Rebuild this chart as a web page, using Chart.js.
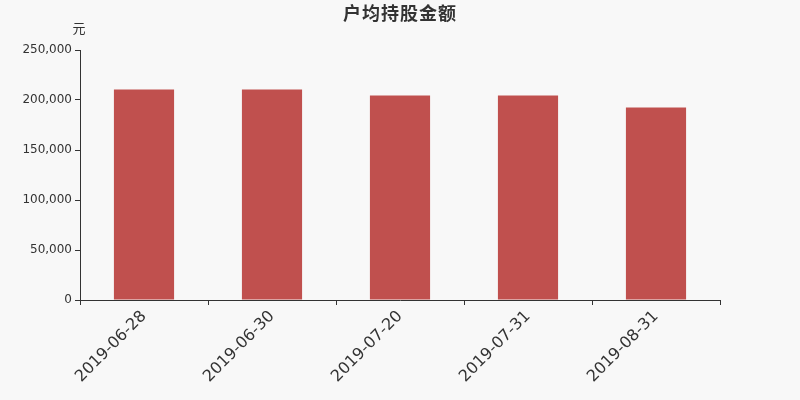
<!DOCTYPE html>
<html>
<head>
<meta charset="utf-8">
<script src="https://cdn.jsdelivr.net/npm/chart.js@4/dist/chart.umd.min.js"></script>
<style>
  html, body { margin: 0; padding: 0; background: #f8f8f8; }
  canvas { display: block; }
</style>
</head>
<body>
<canvas id="barChart" width="800" height="400"></canvas>
<script>
const categories = ['2019-06-28', '2019-06-30', '2019-07-20', '2019-07-31', '2019-08-31'];
const amounts = [210500, 210400, 204500, 204400, 192500];
const yTicks = [0, 50000, 100000, 150000, 200000, 250000];

const FONT = '"DejaVu Sans", "Noto Sans CJK SC", sans-serif';
const TEXT_COLOR = '#333';

// title and unit drawn straight onto the canvas
const headerPlugin = {
  id: 'header',
  afterDraw(chart) {
    const ctx = chart.ctx;
    ctx.save();
    ctx.fillStyle = TEXT_COLOR;
    ctx.textAlign = 'center';
    ctx.textBaseline = 'middle';
    ctx.font = 'bold 18px "Noto Sans CJK SC", sans-serif';
    if ('letterSpacing' in ctx) ctx.letterSpacing = '1px';
    ctx.fillText('户均持股金额', 400, 13);
    if ('letterSpacing' in ctx) ctx.letterSpacing = '0px';
    ctx.font = '13px "Noto Sans CJK SC", sans-serif';
    ctx.fillText('元', 79, 28);
    ctx.restore();
  }
};

document.addEventListener('DOMContentLoaded', () => {
  const ctx = document.getElementById('barChart').getContext('2d');
  new Chart(ctx, {
    type: 'bar',
    data: {
      labels: categories,
      datasets: [{
        label: '户均持股金额',
        data: amounts,
        backgroundColor: '#c0504e',
        barPercentage: 0.47,
        categoryPercentage: 1
      }]
    },
    options: {
      responsive: false,
      animation: false,
      layout: { padding: { top: 50, right: 80, left: 0, bottom: 0 } },
      plugins: {
        legend: { display: false },
        title: { display: false },
        tooltip: { enabled: false }
      },
      scales: {
        x: {
          offset: true,
          grid: {
            offset: true,
            drawOnChartArea: false,
            tickLength: 5,
            color: TEXT_COLOR
          },
          border: { color: TEXT_COLOR },
          ticks: {
            color: TEXT_COLOR,
            font: { family: FONT, size: 16 },
            minRotation: 45,
            maxRotation: 45,
            padding: 2
          },
          afterFit(scale) { scale.height = 100; }
        },
        y: {
          min: 0,
          max: 250000,
          afterBuildTicks(scale) {
            scale.ticks = yTicks.map(v => ({ value: v }));
          },
          grid: {
            drawOnChartArea: false,
            tickLength: 5,
            color: TEXT_COLOR
          },
          border: { color: TEXT_COLOR },
          ticks: {
            color: TEXT_COLOR,
            font: { family: FONT, size: 12 },
            padding: 3,
            callback: v => v.toLocaleString('en-US')
          },
          afterFit(scale) { scale.width = 80; }
        }
      }
    },
    plugins: [headerPlugin]
  });
});
</script>
</body>
</html>
